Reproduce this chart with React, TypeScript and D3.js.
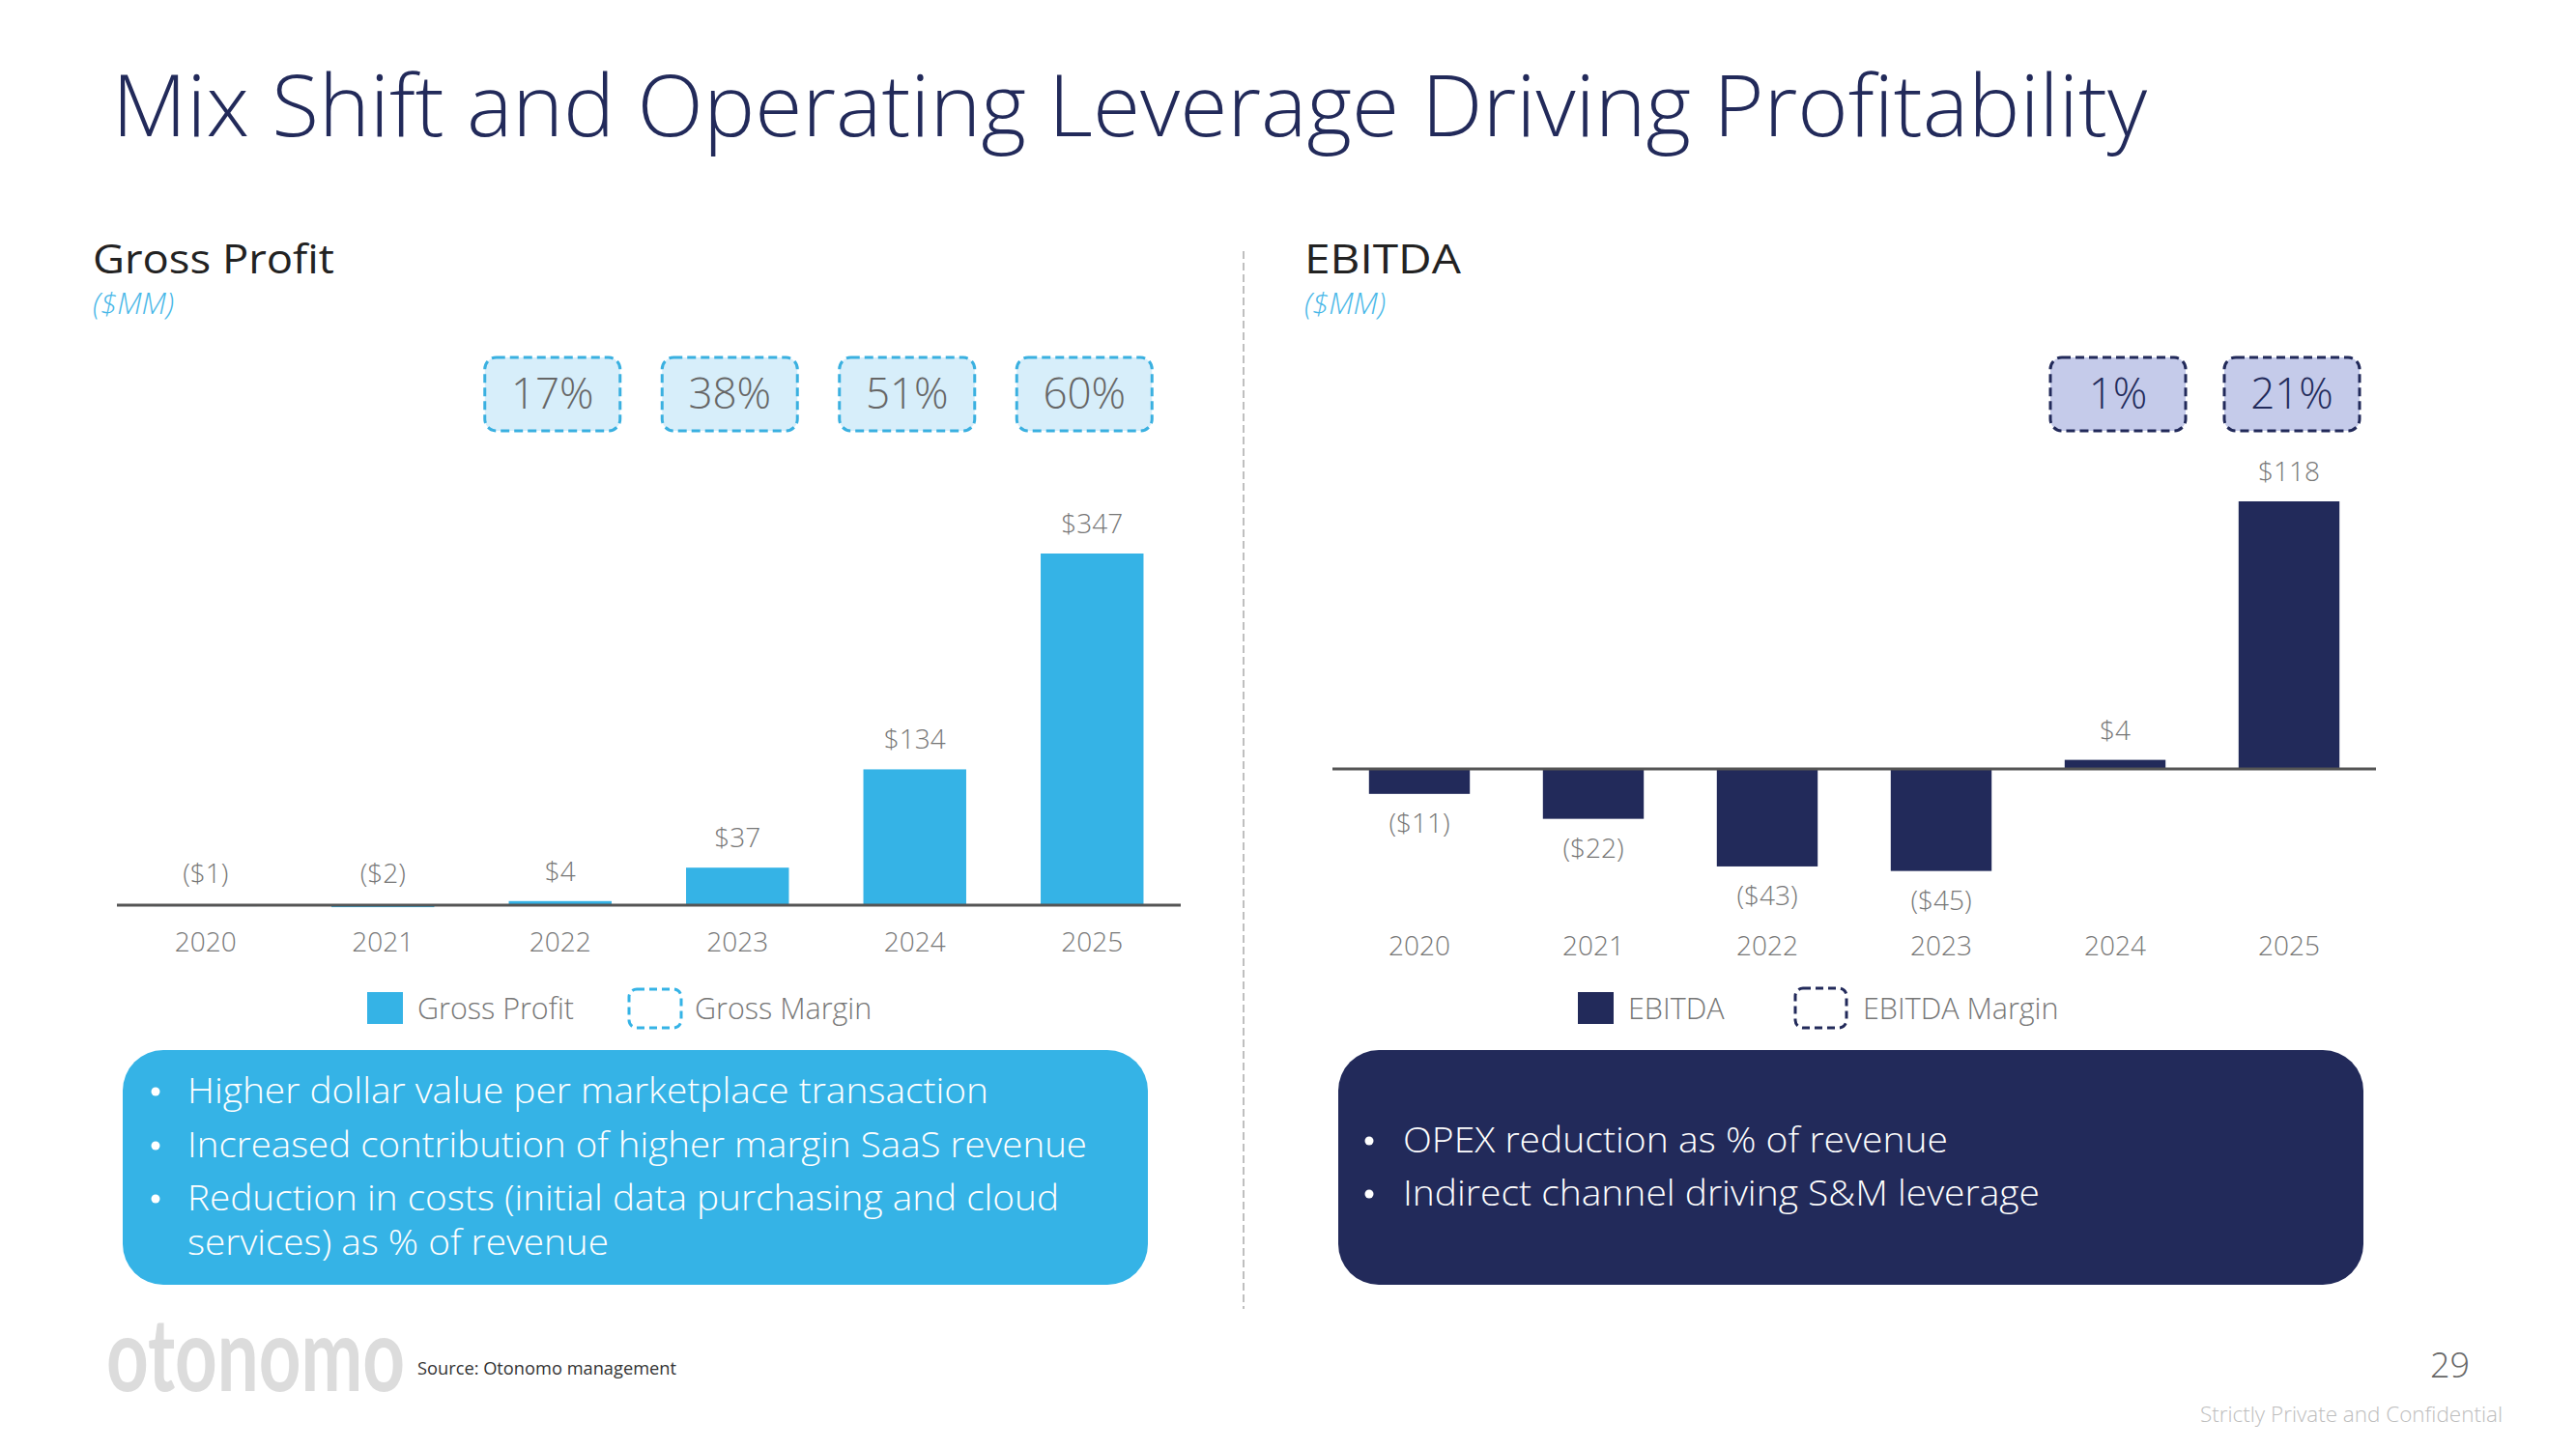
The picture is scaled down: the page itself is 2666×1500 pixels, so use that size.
import React from "react";
import * as d3 from "d3";

const years = ["2020", "2021", "2022", "2023", "2024", "2025"];
const grossProfit = [-1, -2, 4, 37, 134, 347];
const grossMarginYears = ["2022", "2023", "2024", "2025"];
const grossMargin = [17, 38, 51, 60];
const ebitda = [-11, -22, -43, -45, 4, 118];
const ebitdaMarginYears = ["2024", "2025"];
const ebitdaMargin = [1, 21];
const leftBullets = [
  ["Higher dollar value per marketplace transaction"],
  ["Increased contribution of higher margin SaaS revenue"],
  ["Reduction in costs (initial data purchasing and cloud", "services) as % of revenue"],
];
const rightBullets = [
  "OPEX reduction as % of revenue",
  "Indirect channel driving S&M leverage",
];

const LIGHT = "#35b3e6";
const NAVY = "#222a5a";
const GRAY = "#777777";
const FONT = "'Open Sans', 'Noto Sans', sans-serif";

const fmt = (v: number) => (v < 0 ? `($${-v})` : `$${v}`);

function BarPanel(props: {
  values: number[];
  x0: number;
  x1: number;
  yZero: number;
  yTopVal: number;
  yTopPx: number;
  color: string;
  posGap: number;
  negGap: number;
  negBelow: boolean;
  yearBaseline: number;
  marginYears: string[];
  marginValues: number[];
  boxFill: string;
  boxStroke: string;
  boxText: string;
  boxShift: number;
}) {
  const x = d3.scaleBand<string>().domain(years).range([props.x0, props.x1]).paddingInner(0.42).paddingOuter(0.21);
  const y = d3.scaleLinear().domain([0, props.yTopVal]).range([props.yZero, props.yTopPx]);
  const bw = x.bandwidth();
  return (
    <g>
      {props.values.map((v, i) => {
        const yr = years[i];
        const top = Math.min(y(v), y(0));
        const h = Math.abs(y(v) - y(0));
        return <rect key={yr} x={x(yr)} y={top} width={bw} height={h} fill={props.color} />;
      })}
      <line x1={props.x0} x2={props.x1} y1={y(0)} y2={y(0)} stroke="#555" strokeWidth={3} />
      {props.values.map((v, i) => {
        const yr = years[i];
        const cx = (x(yr) as number) + bw / 2;
        let ly: number;
        if (v >= 0) ly = y(v) - props.posGap;
        else if (props.negBelow) ly = y(v) + props.negGap;
        else ly = y(0) - props.negGap;
        return (
          <text key={yr} x={cx} y={ly} textAnchor="middle" fontSize={28} fill={GRAY} fontFamily={FONT} fontWeight={300}>
            {fmt(v)}
          </text>
        );
      })}
      {years.map((yr) => (
        <text key={yr} x={(x(yr) as number) + bw / 2} y={props.yearBaseline} textAnchor="middle" fontSize={28} fill={GRAY} fontFamily={FONT} fontWeight={300}>
          {yr}
        </text>
      ))}
      {props.marginYears.map((yr, i) => {
        const cx = (x(yr) as number) + bw / 2 + props.boxShift;
        return (
          <g key={yr}>
            <rect x={cx - 70} y={370} width={140} height={76} rx={12} fill={props.boxFill} stroke={props.boxStroke} strokeWidth={3} strokeDasharray="9 5" />
            <text x={cx} y={423} textAnchor="middle" fontSize={44} fill={props.boxText} fontFamily={FONT} fontWeight={300}>
              {props.marginValues[i]}%
            </text>
          </g>
        );
      })}
    </g>
  );
}

export default function App() {
  return (
    <svg width={2666} height={1500} style={{ position: "absolute", left: 0, top: 0, display: "block", background: "#fff" }}>
      <rect width={2666} height={1500} fill="#fff" />
      <text x={116} y={141} fontSize={88} fill={NAVY} fontFamily={FONT} fontWeight={300} textLength={2106} lengthAdjust="spacingAndGlyphs">
        Mix Shift and Operating Leverage Driving Profitability
      </text>

      <text x={96} y={283} fontSize={42} fill="#222" fontFamily={FONT} fontWeight={400} textLength={250} lengthAdjust="spacingAndGlyphs">
        Gross Profit
      </text>
      <text x={96} y={325} fontSize={31} fill="#4ab8e8" fontFamily={FONT} fontWeight={300} fontStyle="italic">
        ($MM)
      </text>
      <text x={1350} y={283} fontSize={42} fill="#222" fontFamily={FONT} fontWeight={400} textLength={162} lengthAdjust="spacingAndGlyphs">
        EBITDA
      </text>
      <text x={1350} y={325} fontSize={31} fill="#4ab8e8" fontFamily={FONT} fontWeight={300} fontStyle="italic">
        ($MM)
      </text>

      <line x1={1287} x2={1287} y1={260} y2={1355} stroke="#aaa" strokeWidth={1.5} strokeDasharray="8 4" />

      <BarPanel
        values={grossProfit}
        x0={121}
        x1={1222}
        yZero={937}
        yTopVal={347}
        yTopPx={573}
        color={LIGHT}
        posGap={21}
        negGap={23}
        negBelow={false}
        yearBaseline={985}
        marginYears={grossMarginYears}
        marginValues={grossMargin}
        boxFill="#d7eefa"
        boxStroke="#3ab0e0"
        boxText="#666"
        boxShift={-8}
      />
      <BarPanel
        values={ebitda}
        x0={1379}
        x1={2459}
        yZero={796}
        yTopVal={118}
        yTopPx={519}
        color={NAVY}
        posGap={21}
        negGap={40}
        negBelow={true}
        yearBaseline={989}
        marginYears={ebitdaMarginYears}
        marginValues={ebitdaMargin}
        boxFill="#c5cbea"
        boxStroke={NAVY}
        boxText={NAVY}
        boxShift={3}
      />

      {/* legends */}
      <rect x={380} y={1027} width={37} height={33} fill={LIGHT} />
      <text x={432} y={1055} fontSize={30.5} fill={GRAY} fontFamily={FONT} fontWeight={300}>Gross Profit</text>
      <rect x={651} y={1024} width={54} height={40} rx={8} fill="none" stroke={LIGHT} strokeWidth={3} strokeDasharray="8 5" />
      <text x={719} y={1055} fontSize={30.5} fill={GRAY} fontFamily={FONT} fontWeight={300}>Gross Margin</text>

      <rect x={1633} y={1027} width={37} height={33} fill={NAVY} />
      <text x={1685} y={1055} fontSize={30.5} fill={GRAY} fontFamily={FONT} fontWeight={300}>EBITDA</text>
      <rect x={1858} y={1023} width={53} height={41} rx={8} fill="none" stroke={NAVY} strokeWidth={3} strokeDasharray="8 5" />
      <text x={1928} y={1055} fontSize={30.5} fill={GRAY} fontFamily={FONT} fontWeight={300}>EBITDA Margin</text>

      {/* bottom boxes */}
      <rect x={127} y={1087} width={1061} height={243} rx={42} fill={LIGHT} />
      {(() => {
        const lines: { t: string; bullet: boolean; w: number }[] = [];
        const widths = [[829], [931], [902, 436]];
        leftBullets.forEach((b, i) => b.forEach((t, j) => lines.push({ t, bullet: j === 0, w: widths[i][j] })));
        const baselines = [1142, 1198, 1253, 1299];
        return lines.map((l, i) => (
          <g key={i}>
            {l.bullet && <circle cx={161} cy={baselines[i] - 12} r={4.5} fill="#fff" />}
            <text x={194} y={baselines[i]} fontSize={36} fill="#fff" fontFamily={FONT} fontWeight={300} textLength={l.w} lengthAdjust="spacingAndGlyphs">
              {l.t}
            </text>
          </g>
        ));
      })()}

      <rect x={1385} y={1087} width={1061} height={243} rx={42} fill={NAVY} />
      {rightBullets.map((t, i) => {
        const by = [1193, 1248][i];
        const w = [564, 659][i];
        return (
          <g key={i}>
            <circle cx={1417} cy={by - 12} r={4.5} fill="#fff" />
            <text x={1452} y={by} fontSize={36} fill="#fff" fontFamily={FONT} fontWeight={300} textLength={w} lengthAdjust="spacingAndGlyphs">
              {t}
            </text>
          </g>
        );
      })}

      {/* footer */}
      <g transform="translate(110,1440) scale(1,1.4)">
        <text x={0} y={0} fontSize={75} fill="#dcdcdc" fontFamily="Lato, 'Open Sans', sans-serif" fontWeight={700} textLength={309} lengthAdjust="spacingAndGlyphs">
          otonomo
        </text>
      </g>
      <text x={432} y={1423} fontSize={18} fill="#333" fontFamily={FONT} fontWeight={400} textLength={268} lengthAdjust="spacingAndGlyphs">
        Source: Otonomo management
      </text>
      <text x={2556} y={1426} fontSize={36} fill="#666" fontFamily={FONT} fontWeight={300} textAnchor="end">
        29
      </text>
      <text x={2590} y={1472} fontSize={22} fill="#bdbdbd" fontFamily={FONT} fontWeight={300} textAnchor="end" textLength={313} lengthAdjust="spacingAndGlyphs">
        Strictly Private and Confidential
      </text>
    </svg>
  );
}
